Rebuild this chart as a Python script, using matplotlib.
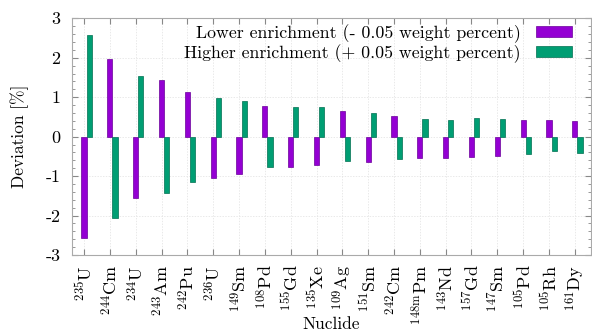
import matplotlib
matplotlib.use("Agg")
import matplotlib.pyplot as plt
import numpy as np
from matplotlib.ticker import AutoMinorLocator

plt.rcParams["font.family"] = "cmr10"
plt.rcParams["mathtext.fontset"] = "cm"
plt.rcParams["axes.unicode_minus"] = False
plt.rcParams["axes.formatter.use_mathtext"] = False

nuclides = [r"$^{235}\mathrm{U}$", r"$^{244}\mathrm{Cm}$", r"$^{234}\mathrm{U}$",
            r"$^{243}\mathrm{Am}$", r"$^{242}\mathrm{Pu}$", r"$^{236}\mathrm{U}$",
            r"$^{149}\mathrm{Sm}$", r"$^{108}\mathrm{Pd}$", r"$^{155}\mathrm{Gd}$",
            r"$^{135}\mathrm{Xe}$", r"$^{109}\mathrm{Ag}$", r"$^{151}\mathrm{Sm}$",
            r"$^{242}\mathrm{Cm}$", r"$^{148\mathrm{m}}\mathrm{Pm}$", r"$^{143}\mathrm{Nd}$",
            r"$^{157}\mathrm{Gd}$", r"$^{147}\mathrm{Sm}$", r"$^{105}\mathrm{Pd}$",
            r"$^{105}\mathrm{Rh}$", r"$^{161}\mathrm{Dy}$"]
lower = [-2.57, 1.96, -1.56, 1.43, 1.13, -1.04, -0.95, 0.79, -0.76, -0.73,
         0.65, -0.63, 0.52, -0.54, -0.54, -0.52, -0.48, 0.41, 0.41, 0.40]
higher = [2.58, -2.07, 1.53, -1.42, -1.15, 0.99, 0.90, -0.76, 0.74, 0.74,
          -0.61, 0.60, -0.56, 0.46, 0.43, 0.48, 0.45, -0.44, -0.36, -0.42]

purple = "#9400d3"
green = "#009e73"
width = 0.2

fig = plt.figure(figsize=(5.92, 3.36), dpi=100)
ax = fig.add_axes([0.121, 0.241, 0.877, 0.7045])

x = np.arange(len(nuclides))
ax.bar(x, lower, width, color=purple, edgecolor="#6a0099", linewidth=0.5,
       label="Lower enrichment (- 0.05 weight percent)", zorder=3)
ax.bar(x + width, higher, width, color=green, edgecolor="#006e50", linewidth=0.5,
       label="Higher enrichment (+ 0.05 weight percent)", zorder=3)

ax.set_xlim(-0.48, 19.62)
ax.set_ylim(-3, 3)
ax.set_yticks([-3, -2, -1, 0, 1, 2, 3])
ax.set_yticklabels(["-3", "-2", "-1", "0", "1", "2", "3"])
ax.set_xticks(x)
ax.set_xticklabels(nuclides, rotation=90, fontsize=13)
ax.tick_params(axis="y", labelsize=13, pad=8)
ax.tick_params(axis="x", pad=7)
ax.yaxis.set_minor_locator(AutoMinorLocator(5))
ax.tick_params(which="both", direction="in", top=True, right=True, color="#888888")
ax.tick_params(which="major", length=4)
ax.tick_params(which="minor", length=2)
for s in ax.spines.values():
    s.set_color("#aaaaaa")
ax.grid(True, color="#e0e0e0", linestyle=(0, (2, 2)), linewidth=0.5, zorder=0)

ax.set_ylabel("Deviation [%]", fontsize=12.5)
ax.yaxis.set_label_coords(-0.082, 0.5)
ax.set_xlabel("Nuclide", fontsize=12.5)
ax.xaxis.set_label_coords(0.5, -0.262)

ax.legend(loc="upper right", bbox_to_anchor=(0.978, 1.005), fontsize=12.8,
          frameon=False, markerfirst=False,
          handlelength=2.05, handleheight=0.55, labelspacing=0.05,
          borderaxespad=0.0, handletextpad=0.86)

fig.savefig("out.png", dpi=100)
